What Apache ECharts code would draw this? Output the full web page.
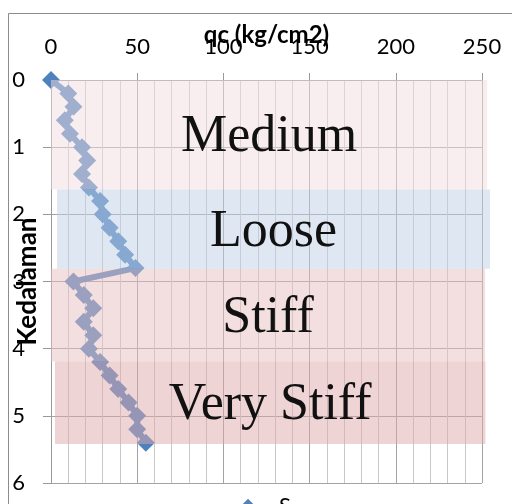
<!DOCTYPE html>
<html>
<head>
<meta charset="utf-8">
<script src="https://cdn.jsdelivr.net/npm/echarts@6/dist/echarts.min.js"></script>
<style>
html,body{margin:0;padding:0;background:#fff;}
#c{width:512px;height:504px;}
</style>
</head>
<body>
<div id="c"></div>
<script>
// Data
const depth = [0, 0.2, 0.4, 0.6, 0.8, 1.0, 1.2, 1.4, 1.6, 1.8, 2.0, 2.2, 2.4, 2.6, 2.8, 3.0, 3.2, 3.4, 3.6, 3.8, 4.0, 4.2, 4.4, 4.6, 4.8, 5.0, 5.2, 5.4];
const qc = [0, 10, 13, 8, 11, 18, 21, 18, 22, 28.5, 30, 34, 39, 43, 49, 13, 19, 24.5, 19, 24.5, 22, 28.5, 34, 39, 45, 50, 50, 55];
const seriesName = 'S';
const xTicks = [0, 50, 100, 150, 200, 250];
const yTicks = [0, 1, 2, 3, 4, 5, 6];
// Soil class bands (depth ranges and qc extents)
const bandNames = ['Medium', 'Loose', 'Stiff', 'Very Stiff'];
const bandTop = [0, 1.63, 2.81, 4.19];
const bandBottom = [1.63, 2.81, 4.19, 5.42];
const bandLeft = [0, 3.5, 0, 2.3];
const bandRight = [253, 254.6, 251.7, 252];
const bandColors = ['rgba(241,221,223,0.5)', 'rgba(191,207,229,0.5)', 'rgba(231,191,193,0.5)', 'rgba(223,169,173,0.5)'];

const chart = echarts.init(document.getElementById('c'), null, {renderer: 'canvas'});
const labelFont = 'Lato';
const option = {
  animation: false,
  graphic: [{
    type: 'rect', shape: {x: 8.5, y: 13.5, width: 520, height: 520},
    style: {fill: 'none', stroke: '#8c8c8c', lineWidth: 1}, z: -10, silent: true
  }],
  grid: {left: 51, right: 30, top: 80, bottom: 21, containLabel: false, outerBoundsMode: 'none'},
  legend: {
    data: [seriesName], bottom: -18, left: 'center',
    itemWidth: 52, itemHeight: 18,
    textStyle: {fontFamily: labelFont, fontSize: 22, color: '#000'}
  },
  xAxis: {
    type: 'value', position: 'top', min: xTicks[0], max: xTicks[xTicks.length - 1], interval: 50,
    name: 'qc (kg/cm2)', nameLocation: 'middle', nameGap: 33, nameMoveOverlap: false,
    nameTextStyle: {fontFamily: labelFont, fontWeight: 'bold', fontSize: 24, color: '#000'},
    axisLine: {show: true, lineStyle: {color: '#999', width: 1}},
    axisTick: {show: true, length: 7, lineStyle: {color: '#999'}},
    axisLabel: {fontFamily: labelFont, fontSize: 22, color: '#000', margin: 22},
    splitLine: {show: true, lineStyle: {color: '#a3a3a3', width: 1}},
    minorTick: {show: false, splitNumber: 5},
    minorSplitLine: {show: true, lineStyle: {color: '#c9c9c9', width: 1}}
  },
  yAxis: {
    type: 'value', inverse: true, min: yTicks[0], max: yTicks[yTicks.length - 1], interval: 1,
    name: 'Kedalaman', nameLocation: 'middle', nameGap: 10, nameRotate: 90, nameMoveOverlap: false,
    nameTextStyle: {fontFamily: labelFont, fontWeight: 'bold', fontSize: 26, color: '#000'},
    axisLine: {show: true, lineStyle: {color: '#999', width: 1}},
    axisTick: {show: true, length: 8, lineStyle: {color: '#999'}},
    axisLabel: {fontFamily: labelFont, fontSize: 22, color: '#000', margin: 26},
    splitLine: {show: true, lineStyle: {color: '#a3a3a3', width: 1}}
  },
  series: [
    {
      name: seriesName, type: 'line', z: 2,
      data: qc.map((v, i) => [v, depth[i]]),
      symbol: 'diamond', symbolSize: 18,
      lineStyle: {color: '#4f81bd', width: 6},
      itemStyle: {color: '#4f81bd'},
      clip: false
    },
    {
      name: 'bands', type: 'custom', z: 10, clip: false, silent: true,
      data: bandNames.map((n, i) => [bandLeft[i], bandTop[i], bandRight[i], bandBottom[i], i]),
      encode: {x: [0, 2], y: [1, 3]},
      renderItem: function (params, api) {
        const p1 = api.coord([api.value(0), api.value(1)]);
        const p2 = api.coord([api.value(2), api.value(3)]);
        const i = api.value(4);
        return {
          type: 'group',
          children: [
            {type: 'rect', shape: {x: p1[0], y: p1[1], width: p2[0] - p1[0], height: p2[1] - p1[1]},
             style: {fill: bandColors[i]}},
            {type: 'text', x: (p1[0] + p2[0]) / 2, y: (p1[1] + p2[1]) / 2 + 3,
             style: {text: bandNames[i], font: '52px "Liberation Serif"', fill: '#111', align: 'center', verticalAlign: 'middle'}}
          ]
        };
      }
    }
  ]
};
chart.setOption(option);
</script>
</body>
</html>
